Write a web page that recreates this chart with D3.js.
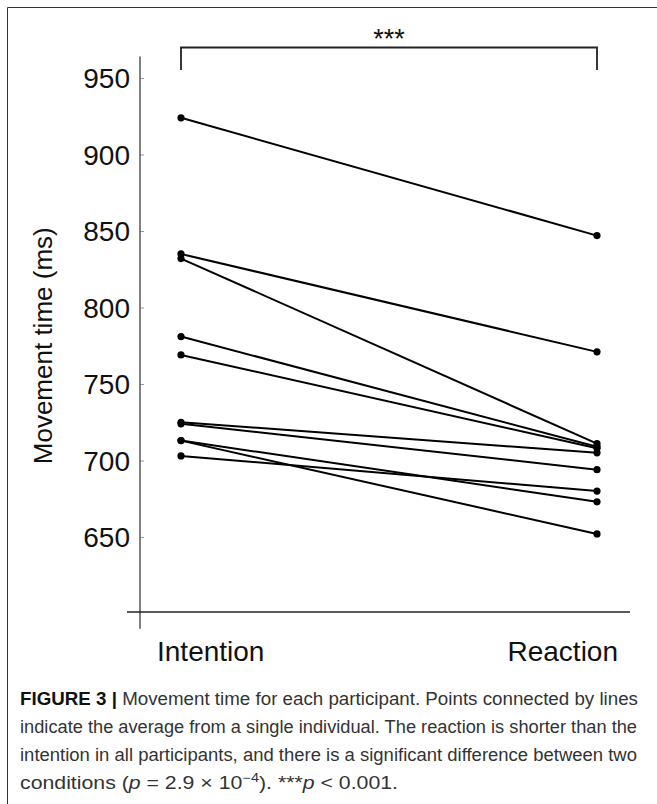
<!DOCTYPE html>
<html>
<head>
<meta charset="utf-8">
<script src="https://cdn.jsdelivr.net/npm/d3@7"></script>
<style>
  body { margin: 0; background: #fff; }
  svg { display: block; font-family: "Liberation Sans", Arial, sans-serif; }
</style>
</head>
<body>
<div id="chart"></div>
<script>
// conditions on the x axis
const conditions = ["Intention", "Reaction"];
// one value per participant, same order in both arrays
const intention = [924, 835, 832, 781, 769, 725, 724, 713, 713, 703];
const reaction  = [847, 771, 711, 709, 708, 705, 694, 673, 652, 680];
const yTicks = [650, 700, 750, 800, 850, 900, 950];
const yLabel = "Movement time (ms)";
const signif = "***";

const width = 657, height = 804;

const svg = d3.select("#chart").append("svg")
    .attr("width", width)
    .attr("height", height);

// figure frame (only top and left edges are visible)
svg.append("path")
    .attr("d", `M7.5,${height}V7.5H${width}`)
    .attr("fill", "none")
    .attr("stroke", "#333")
    .attr("stroke-width", 1);

const x = d3.scalePoint().domain(conditions).range([181, 597]);
const y = d3.scaleLinear().domain([600, 950]).range([613.5, 78]);

// y axis
const yAxis = svg.append("g")
    .attr("transform", "translate(140,0)")
    .call(d3.axisRight(y).tickValues(yTicks).tickSize(4).tickFormat(""));
yAxis.select(".domain").remove();
yAxis.selectAll(".tick line").attr("stroke", "#999");

svg.append("line")
    .attr("x1", 140).attr("x2", 140)
    .attr("y1", y(964)).attr("y2", y(590))
    .attr("stroke", "#555").attr("stroke-width", 1.5);

svg.append("g").selectAll("text")
    .data(yTicks)
    .join("text")
    .attr("x", 130)
    .attr("y", d => y(d) + 10)
    .attr("text-anchor", "end")
    .attr("font-size", 28)
    .attr("fill", "#111")
    .text(d => d);

svg.append("text")
    .attr("transform", `translate(52,${y(775)}) rotate(-90)`)
    .attr("text-anchor", "middle")
    .attr("font-size", 26)
    .attr("fill", "#111")
    .text(yLabel);

// x axis
svg.append("line")
    .attr("x1", 127).attr("x2", 630)
    .attr("y1", y(601)).attr("y2", y(601))
    .attr("stroke", "#222").attr("stroke-width", 1.5);

svg.append("text")
    .attr("x", x("Intention") - 24).attr("y", 661)
    .attr("font-size", 28).attr("fill", "#111")
    .text(conditions[0]);
svg.append("text")
    .attr("x", x("Reaction") + 21).attr("y", 661)
    .attr("text-anchor", "end")
    .attr("font-size", 28).attr("fill", "#111")
    .text(conditions[1]);

// significance bracket
const bY = 47.5;
svg.append("path")
    .attr("d", `M${x("Intention")},70V${bY}H${x("Reaction")}V70`)
    .attr("fill", "none")
    .attr("stroke", "#222")
    .attr("stroke-width", 1.8);
svg.append("text")
    .attr("x", (x("Intention") + x("Reaction")) / 2)
    .attr("y", 48)
    .attr("text-anchor", "middle")
    .attr("font-size", 27)
    .attr("fill", "#111")
    .text(signif);

// participants
const pairs = intention.map((v, i) => [v, reaction[i]]);

svg.append("g").selectAll("line")
    .data(pairs)
    .join("line")
    .attr("x1", x("Intention")).attr("y1", d => y(d[0]))
    .attr("x2", x("Reaction")).attr("y2", d => y(d[1]))
    .attr("stroke", "#000")
    .attr("stroke-width", 2);

svg.append("g").selectAll("circle")
    .data(pairs.flatMap(d => [["Intention", d[0]], ["Reaction", d[1]]]))
    .join("circle")
    .attr("cx", d => x(d[0]))
    .attr("cy", d => y(d[1]))
    .attr("r", 3.6)
    .attr("fill", "#000");

// caption
const capLines = [
    [{t: "FIGURE 3 |", b: true}, {t: " Movement time for each participant. Points connected by lines"}],
    [{t: "indicate the average from a single individual. The reaction is shorter than the"}],
    [{t: "intention in all participants, and there is a significant difference between two"}],
    [{t: "conditions ("}, {t: "p", i: true}, {t: " = 2.9 × 10"}, {t: "−4", sup: true}, {t: "). ***"}, {t: "p", i: true}, {t: " < 0.001."}]
];
const capWidths = [618, 617, 617, 378];
const cap = svg.append("g").attr("font-size", 17.5).attr("fill", "#333");
capLines.forEach((line, li) => {
    const t = cap.append("text")
        .attr("x", 20)
        .attr("y", 705 + li * 28);
    line.forEach(s => {
        const ts = t.append("tspan").text(s.t);
        if (s.b) ts.attr("font-weight", "bold").attr("fill", "#111");
        if (s.i) ts.attr("font-style", "italic");
        if (s.sup) ts.attr("font-size", 12).attr("dy", -7);
        if (s.t.startsWith(")") && line.some(o => o.sup)) ts.attr("dy", 7);
    });
    t.attr("textLength", capWidths[li]).attr("lengthAdjust", "spacingAndGlyphs");
});
</script>
</body>
</html>
